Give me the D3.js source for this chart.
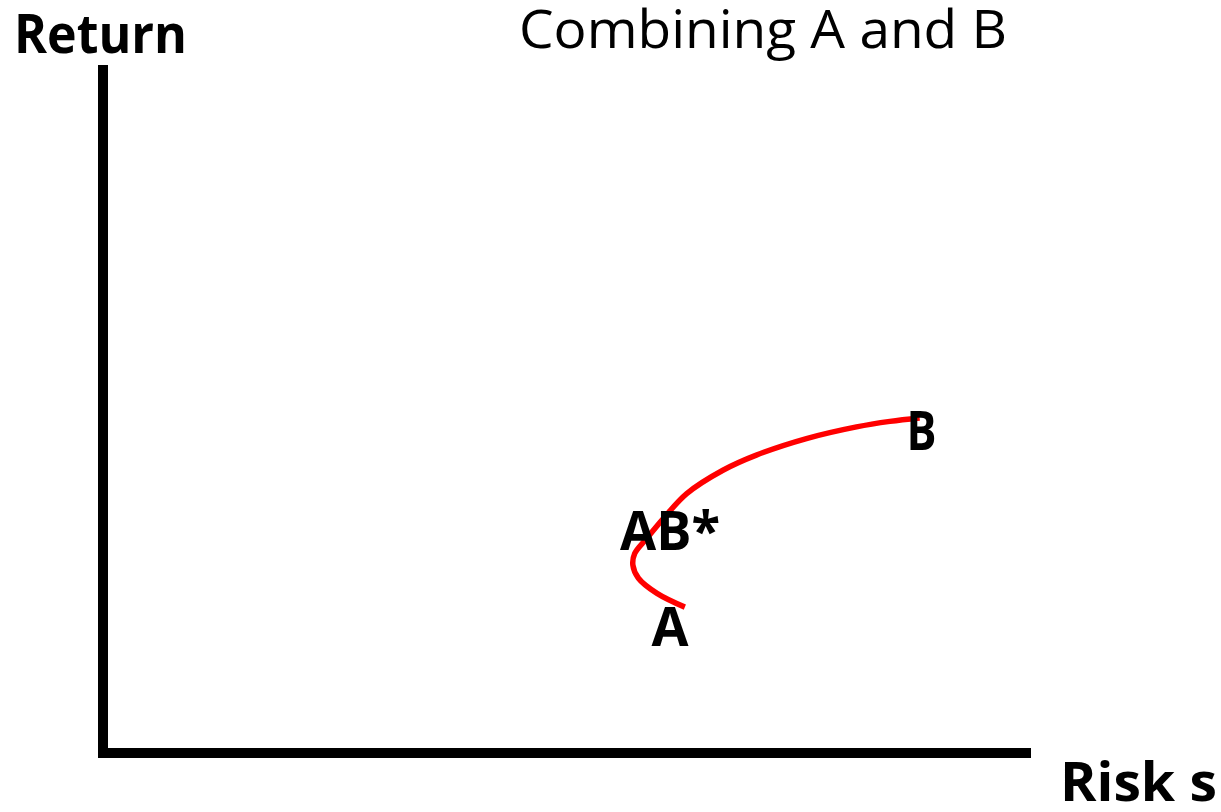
<!DOCTYPE html>
<html>
<head>
<meta charset="utf-8">
<script src="https://cdn.jsdelivr.net/npm/d3@7"></script>
<style>
  html, body { margin: 0; padding: 0; background: #fff; }
  svg text { font-family: "Open Sans", "Liberation Sans", sans-serif; fill: #000; }
</style>
</head>
<body>
<div id="chart"></div>
<script>
// risk (x) / return (y) of the A-B combination curve
const riskValues   = [62.7, 59.7, 57.7, 57.1, 57.3, 58.6, 60.4, 62.9, 66.8, 70.4, 75.8, 81.2, 84.8, 88.0];
const returnValues = [21.2, 23.2, 25.4, 27.3, 29.0, 31.2, 34.1, 37.7, 41.1, 43.3, 45.7, 47.4, 48.2, 48.7];

// point labels
const labelNames  = ['A', 'AB*', 'B'];
const labelRisk   = [61.1, 61.1, 88.2];
const labelReturn = [15.6, 29.5, 44.0];

var width = 1221, height = 812;

var svg = d3.select('#chart').append('svg')
            .attr('width', width)
            .attr('height', height);

var x = d3.scaleLinear().domain([0, 100]).range([103, 1031]);
var y = d3.scaleLinear().domain([0, 100]).range([753, 65]);

// axes, drawn as thick plain lines
svg.append('line')
   .attr('x1', x(0)).attr('y1', y(100))
   .attr('x2', x(0)).attr('y2', y(0) + 5)
   .attr('stroke', '#000')
   .attr('stroke-width', 10);

svg.append('line')
   .attr('x1', x(0) - 5).attr('y1', y(0))
   .attr('x2', x(100)).attr('y2', y(0))
   .attr('stroke', '#000')
   .attr('stroke-width', 10);

// curve
var points = riskValues.map((r, i) => [r, returnValues[i]]);
var line = d3.line()
             .x(d => x(d[0]))
             .y(d => y(d[1]))
             .curve(d3.curveCatmullRom.alpha(0.5));

svg.append('path')
   .datum(points)
   .attr('d', line)
   .attr('fill', 'none')
   .attr('stroke', '#ff0000')
   .attr('stroke-width', 5.5);

// labels on the curve
svg.selectAll('text.point-label')
   .data(labelNames)
   .enter().append('text')
   .attr('class', 'point-label')
   .attr('x', (d, i) => x(labelRisk[i]))
   .attr('y', (d, i) => y(labelReturn[i]))
   .attr('text-anchor', 'middle')
   .attr('font-size', 54)
   .attr('font-weight', 700)
   .attr('textLength', d => d === 'AB*' ? 100 : (d === 'A' ? 37 : 30))
   .attr('lengthAdjust', 'spacingAndGlyphs')
   .text(d => d);

// titles
svg.append('text')
   .attr('x', 519).attr('y', 48)
   .attr('font-size', 53)
   .attr('textLength', 488)
   .attr('lengthAdjust', 'spacingAndGlyphs')
   .text('Combining A and B');

svg.append('text')
   .attr('x', 14).attr('y', 53)
   .attr('font-size', 54)
   .attr('font-weight', 700)
   .attr('textLength', 173)
   .attr('lengthAdjust', 'spacingAndGlyphs')
   .text('Return');

svg.append('text')
   .attr('x', 1060).attr('y', 801)
   .attr('font-size', 54)
   .attr('font-weight', 700)
   .attr('textLength', 157)
   .attr('lengthAdjust', 'spacingAndGlyphs')
   .text('Risk s');
</script>
</body>
</html>
